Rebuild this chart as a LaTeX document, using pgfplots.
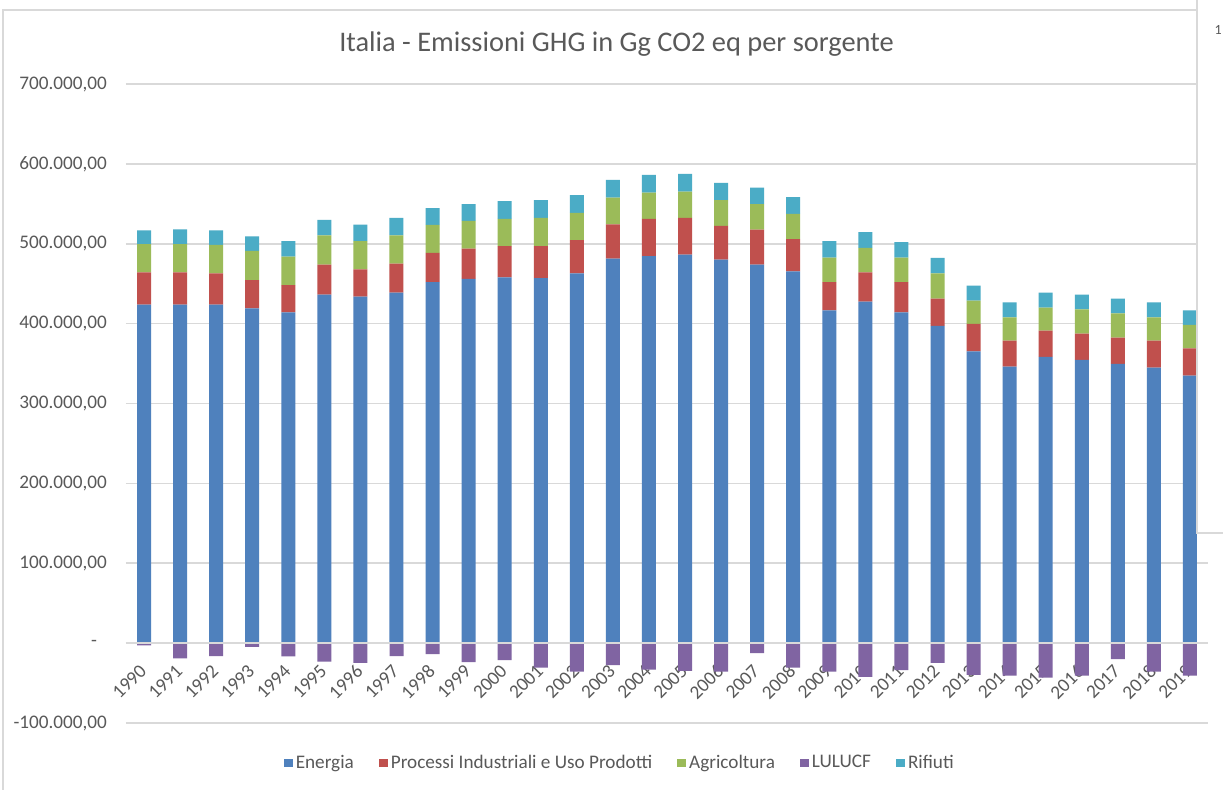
\documentclass[border=0pt]{standalone}
\usepackage{pgfplots}
\pgfplotsset{compat=1.18}
\usepackage{pgfplotstable}
\usepackage{fontspec}
\setmainfont{Carlito}
\definecolor{cEn}{HTML}{4F81BD}
\definecolor{cIp}{HTML}{C0504D}
\definecolor{cAg}{HTML}{9BBB59}
\definecolor{cLu}{HTML}{8064A2}
\definecolor{cRi}{HTML}{4BACC6}
\definecolor{txt}{HTML}{595959}
\definecolor{grd}{HTML}{D9D9D9}
\pgfplotsset{sqlegend/.style={legend image code/.code={\fill[##1] (0pt,-2.1pt) rectangle (4.3pt,2.2pt);}}}
\pgfplotstableread{
year en ipp agr rif lul
1990 423750 40400 35500 17000 -2900
1991 423750 40400 35500 18250 -19200
1992 423750 39100 35900 17900 -16300
1993 419100 35500 36600 17900 -4600
1994 414100 34250 35400 19600 -16700
1995 436250 37500 36600 19600 -23300
1996 433750 34100 35500 20750 -24600
1997 438750 36250 35400 22100 -16300
1998 452100 36600 35000 20900 -13800
1999 455900 37900 35000 20900 -23800
2000 457900 39250 34100 22100 -21300
2001 457100 40000 35400 22100 -30800
2002 462900 41750 34100 22100 -35800
2003 481250 42900 33750 22100 -27500
2004 484600 46600 32900 22100 -33300
2005 486250 46250 32900 22100 -34600
2006 480000 42500 32100 21600 -35800
2007 473750 44100 31750 20750 -12500
2008 465400 40500 31600 20900 -30800
2009 416600 35500 30400 20900 -35800
2010 427500 36600 30900 19600 -42100
2011 414100 38000 30400 19600 -33800
2012 397100 34100 31600 19600 -24600
2013 365400 34250 29100 18750 -39600
2014 346250 32500 29100 18750 -40800
2015 358400 32900 28750 18750 -43300
2016 354600 32900 30400 18400 -40800
2017 349600 32900 30400 18400 -20000
2018 345000 33750 29100 18750 -35800
2019 335000 34100 29250 18250 -40800
}\data
\begin{document}
\begin{tikzpicture}
\path[use as bounding box] (-63pt,-33pt) rectangle (548.5pt,361.5pt);
\fill[white] (-63pt,-33pt) rectangle (548.5pt,361.5pt);
\draw[grd, line width=0.8pt] (-61.5pt,-40pt) -- (-61.5pt,356.5pt) -- (535.5pt,356.5pt);
\begin{axis}[
  at={(0pt,0pt)}, anchor=south west,
  scale only axis, width=541pt, height=319.5pt,
  ybar stacked, bar width=7pt,
  xmin=1989.5, xmax=2019.5, ymin=-100000, ymax=700000,
  scaled y ticks=false,
  axis line style={draw=none},
  major tick length=0pt,
  ymajorgrids, grid style={grd, line width=0.8pt},
  xtick=data,
  ytick={-100000,0,100000,200000,300000,400000,500000,600000,700000},
  yticklabels={{-100.000,00},{-\hspace*{5pt}},{100.000,00},{200.000,00},{300.000,00},{400.000,00},{500.000,00},{600.000,00},{700.000,00}},
  yticklabel style={font=\fontsize{9.6pt}{11pt}\selectfont, text=txt, xshift=-6pt},
  xticklabel style={font=\fontsize{9.6pt}{11pt}\selectfont, text=txt, yshift=30pt, xshift=2pt, rotate=45, anchor=east,
     /pgf/number format/1000 sep={}, /pgf/number format/assume math mode=true},
  legend columns=-1,
  legend style={draw=none, fill=none, at={(0.457,-0.063)}, anchor=center,
     font=\fontsize{9.6pt}{11pt}\selectfont, text=txt,
     /tikz/every even column/.append style={column sep=11pt},
     inner sep=0pt, nodes={inner sep=1.6pt}},
]
\addplot[fill=cEn, draw=none, sqlegend] table[x=year,y=en]{\data};
\addlegendentry{Energia}
\addplot[fill=cIp, draw=none, sqlegend] table[x=year,y=ipp]{\data};
\addlegendentry{Processi Industriali e Uso Prodotti}
\addplot[fill=cAg, draw=none, sqlegend] table[x=year,y=agr]{\data};
\addlegendentry{Agricoltura}
\addlegendimage{fill=cLu, draw=none, sqlegend}
\addlegendentry{LULUCF}
\addplot[fill=cRi, draw=none, sqlegend] table[x=year,y=rif]{\data};
\addlegendentry{Rifiuti}
\end{axis}
\begin{axis}[
  at={(0pt,0pt)}, anchor=south west,
  scale only axis, width=541pt, height=319.5pt,
  ybar, bar width=7pt, bar shift=0pt,
  xmin=1989.5, xmax=2019.5, ymin=-100000, ymax=700000,
  axis lines=none,
]
\addplot[fill=cLu, draw=none] table[x=year,y=lul]{\data};
\draw[grd, line width=0.8pt] (axis cs:1989.5,0) -- (axis cs:2019.5,0);
\end{axis}
\node[text=txt, font=\fontsize{14.2pt}{17pt}\selectfont] at (245.25pt,339.5pt) {Italia - Emissioni GHG in Gg CO2 eq per sorgente};
\fill[white] (535.5pt,95pt) rectangle (560pt,370pt);
\draw[grd, line width=0.8pt] (535.5pt,370pt) -- (535.5pt,95pt) -- (560pt,95pt);
\node[text=txt, font=\fontsize{7pt}{8pt}\selectfont, anchor=east, inner sep=0.5pt] at (548.5pt,346.5pt) {1};
\end{tikzpicture}
\end{document}
